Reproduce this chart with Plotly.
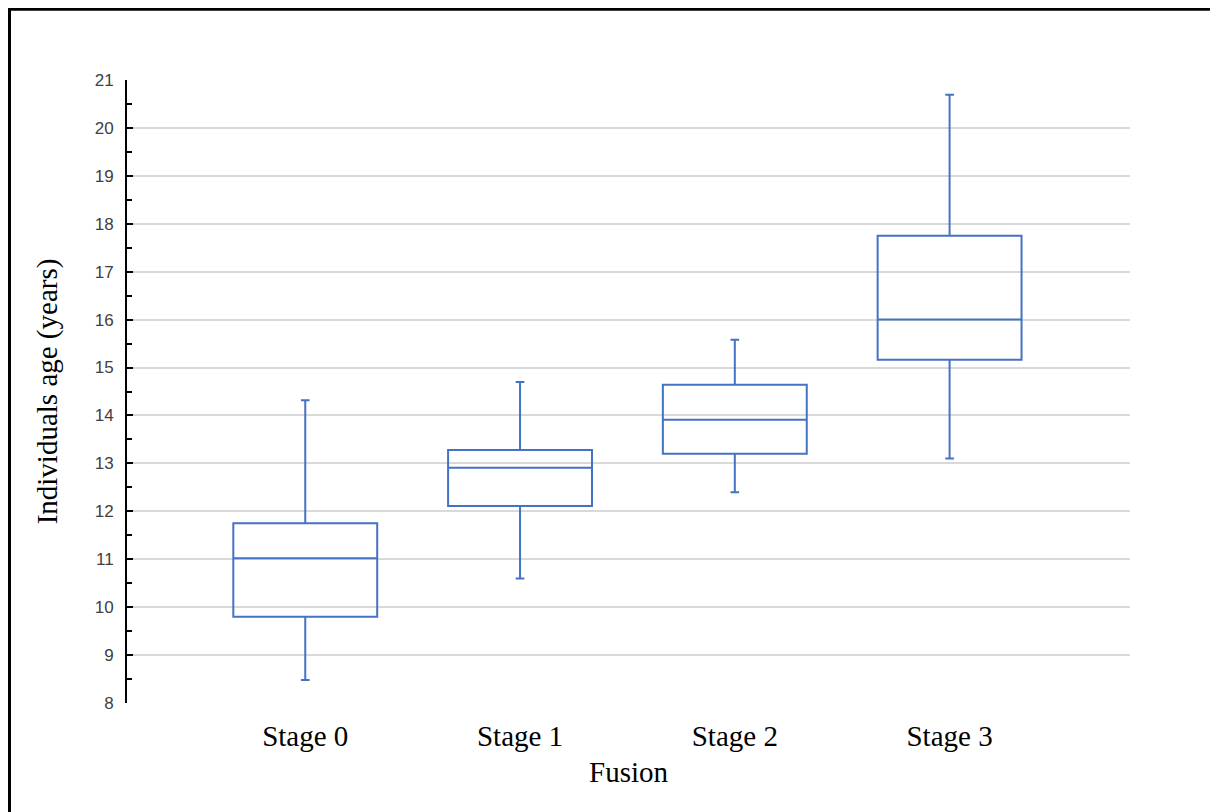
import plotly.graph_objects as go

categories = ["Stage 0", "Stage 1", "Stage 2", "Stage 3"]
lower_whisker = [8.48, 10.60, 12.40, 13.10]
q1_values = [9.80, 12.11, 13.20, 15.16]
medians = [11.02, 12.91, 13.91, 16.00]
q3_values = [11.75, 13.28, 14.64, 17.75]
upper_whisker = [14.32, 14.70, 15.58, 20.69]

# page has an 8px body margin, so the figure is placed at (8, 8)
W, H = 1210, 804
ml, mt = 119, 72
pw, ph = 1003, 623
mr = W - ml - pw
mb = H - mt - ph

fig = go.Figure()
fig.add_trace(go.Box(
    x=categories,
    q1=q1_values, median=medians, q3=q3_values,
    lowerfence=lower_whisker, upperfence=upper_whisker,
    line=dict(color="#4472C4", width=2),
    fillcolor="rgba(255,255,255,0)",
    width=0.67,
    whiskerwidth=0.06,
    boxpoints=False,
    hoverinfo="skip",
    showlegend=False,
))

def px_to_paper_x(px):
    return (px - ml) / pw

def px_to_paper_y(py):
    return (H - mb - py) / ph

# frame lines (top and left only visible)
fig.add_shape(type="line", xref="paper", yref="paper",
              x0=px_to_paper_x(0), x1=px_to_paper_x(1230),
              y0=px_to_paper_y(1.2), y1=px_to_paper_y(1.2),
              line=dict(color="black", width=3))
fig.add_shape(type="line", xref="paper", yref="paper",
              x0=px_to_paper_x(1.5), x1=px_to_paper_x(1.5),
              y0=px_to_paper_y(0), y1=px_to_paper_y(830),
              line=dict(color="black", width=3))

serif = "Liberation Serif"
fig.update_layout(
    width=W, height=H,
    margin=dict(l=ml, r=mr, t=mt, b=mb),
    paper_bgcolor="white", plot_bgcolor="white",
    font=dict(family=serif, color="black"),
    xaxis=dict(
        type="category",
        range=[-0.83, 3.84],
        showgrid=False, zeroline=False, showline=False,
        ticks="",
        tickfont=dict(family=serif, size=29, color="black"),
        ticklabelstandoff=13,
        title=dict(text="Fusion", font=dict(family=serif, size=29, color="black"), standoff=10),
    ),
    yaxis=dict(
        range=[8, 21],
        tickvals=list(range(8, 22)),
        showgrid=True, gridcolor="#d9d9d9", gridwidth=1.5,
        zeroline=False,
        showline=True, linecolor="black", linewidth=2,
        ticks="inside", ticklen=6, tickcolor="black", tickwidth=2,
        minor=dict(dtick=0.5, ticks="inside", ticklen=5, tickcolor="black", tickwidth=2, showgrid=False),
        tickfont=dict(family="Liberation Sans", size=17, color="#404040"),
        ticklabelstandoff=8,
        title=dict(text="Individuals age (years)", font=dict(family=serif, size=29, color="black"), standoff=29),
    ),
)

fig.write_html("out.html")
